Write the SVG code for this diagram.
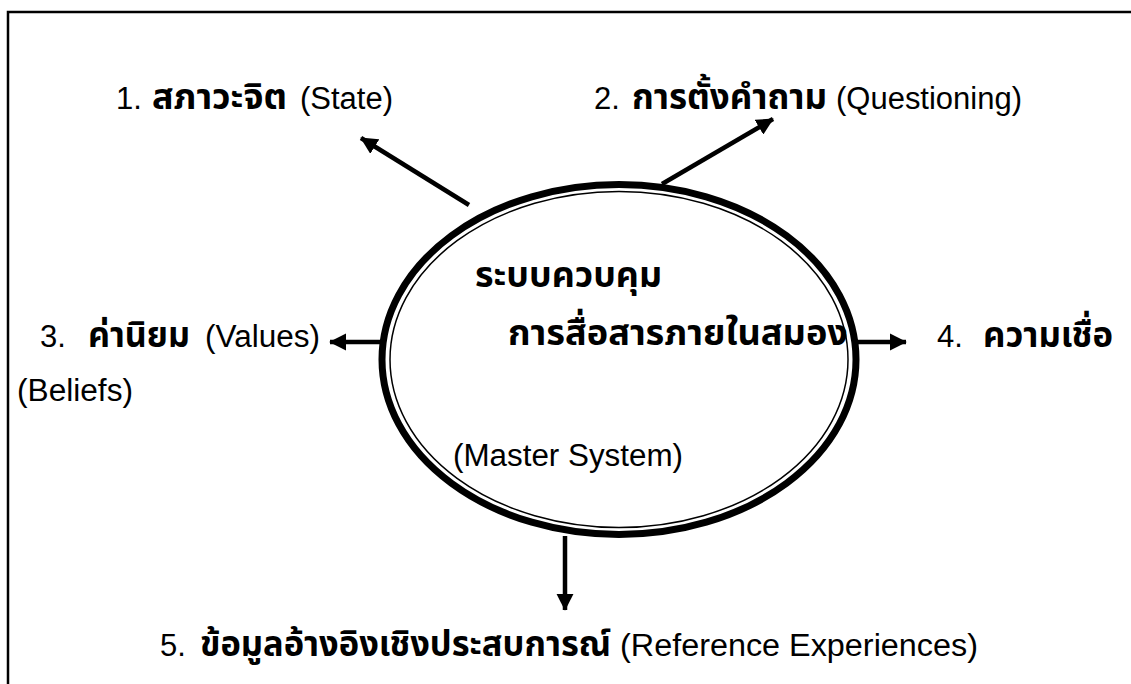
<svg xmlns="http://www.w3.org/2000/svg" width="1131" height="684" viewBox="0 0 1131 684">
<defs>
<style>
.e{font-family:"Liberation Sans",Arial,sans-serif;font-size:31px;fill:#000}
.th{font-family:"Noto Sans Thai","Liberation Sans","Noto Sans",sans-serif;font-size:35px;font-weight:bold;fill:#000}
.c{stroke:#000;stroke-width:4.5;fill:none}
</style>
<marker id="ah" viewBox="0 0 10 10" refX="9.5" refY="5" markerWidth="3.8" markerHeight="3.8" orient="auto" markerUnits="strokeWidth">
<path d="M0,0 L10,5 L0,10 z" fill="#000"/>
</marker>
</defs>
<rect width="1131" height="684" fill="#fff"/>
<path d="M8,684 V12 H1131" fill="none" stroke="#000" stroke-width="2.5"/>
<g id="connectors">
<line class="c" x1="469" y1="205" x2="361" y2="138" marker-end="url(#ah)"/>
<line class="c" x1="662" y1="184" x2="773" y2="119" marker-end="url(#ah)"/>
<line class="c" x1="382" y1="342" x2="330" y2="342" marker-end="url(#ah)"/>
<line class="c" x1="857" y1="342" x2="906" y2="342" marker-end="url(#ah)"/>
<line class="c" x1="565" y1="536" x2="565" y2="610" marker-end="url(#ah)"/>
</g>
<g id="center">
<ellipse cx="619" cy="359.5" rx="237" ry="175" fill="#fff" stroke="#000" stroke-width="7"/>
<ellipse cx="619" cy="359.5" rx="229" ry="168" fill="none" stroke="#000" stroke-width="1.5"/>
<text class="th" x="475" y="287" textLength="187" lengthAdjust="spacingAndGlyphs">ระบบควบคุม</text>
<text class="th" x="508" y="345" textLength="340" lengthAdjust="spacingAndGlyphs">การสื่อสารภายในสมอง</text>
<text class="e" x="453" y="466" textLength="230" lengthAdjust="spacingAndGlyphs">(Master System)</text>
</g>
<g id="n1">
<text class="e" x="116" y="109">1.</text>
<text class="th" x="152" y="109" textLength="135" lengthAdjust="spacingAndGlyphs">สภาวะจิต</text>
<text class="e" x="300" y="109" textLength="93" lengthAdjust="spacingAndGlyphs">(State)</text>
</g>
<g id="n2">
<text class="e" x="594" y="109">2.</text>
<text class="th" x="632" y="109" textLength="195" lengthAdjust="spacingAndGlyphs">การตั้งคำถาม</text>
<text class="e" x="836" y="109" textLength="186" lengthAdjust="spacingAndGlyphs">(Questioning)</text>
</g>
<g id="n3">
<text class="e" x="40" y="347">3.</text>
<text class="th" x="88" y="347" textLength="102" lengthAdjust="spacingAndGlyphs">ค่านิยม</text>
<text class="e" x="205" y="347" textLength="115" lengthAdjust="spacingAndGlyphs">(Values)</text>
</g>
<g id="n4">
<text class="e" x="937" y="347">4.</text>
<text class="th" x="983" y="347" textLength="130" lengthAdjust="spacingAndGlyphs">ความเชื่อ</text>
<text class="e" x="17" y="401" textLength="116" lengthAdjust="spacingAndGlyphs">(Beliefs)</text>
</g>
<g id="n5">
<text class="e" x="160" y="656">5.</text>
<text class="th" x="200" y="656" textLength="411" lengthAdjust="spacingAndGlyphs">ข้อมูลอ้างอิงเชิงประสบการณ์</text>
<text class="e" x="620" y="656" textLength="358" lengthAdjust="spacingAndGlyphs">(Reference Experiences)</text>
</g>
</svg>
